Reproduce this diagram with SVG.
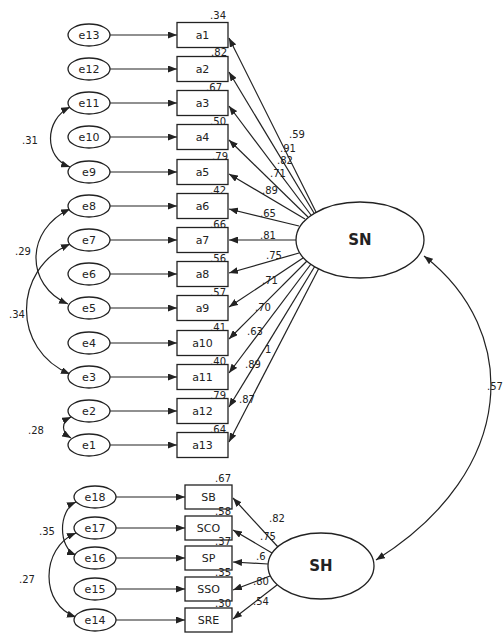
<svg xmlns="http://www.w3.org/2000/svg" width="503" height="636" viewBox="0 0 503 636">
<defs>
<marker id="ah" markerUnits="userSpaceOnUse" markerWidth="10" markerHeight="7" refX="9" refY="3.5" orient="auto-start-reverse"><path d="M0,0 L9,3.5 L0,7 z" fill="#222"/></marker>
<style>
.el{fill:#fff;stroke:#222;stroke-width:1.3}
.bx{fill:#fff;stroke:#222;stroke-width:1.3}
.c{fill:none;stroke:#222;stroke-width:1.2}
.a{marker-end:url(#ah)}
.b{marker-start:url(#ah);marker-end:url(#ah)}
text{font-family:"DejaVu Sans","Liberation Sans",sans-serif;font-size:10px;fill:#222}
.m{text-anchor:middle;font-size:11px}
.e{text-anchor:end}
.big{font-size:15px;text-anchor:middle;font-weight:600}
</style>
</defs>
<rect width="503" height="636" fill="#fff"/>
<g id="connectors">
<line class="c a" x1="110" y1="35" x2="177" y2="35"/>
<line class="c a" x1="110" y1="69" x2="177" y2="69"/>
<line class="c a" x1="110" y1="103" x2="177" y2="103"/>
<line class="c a" x1="110" y1="137" x2="177" y2="137"/>
<line class="c a" x1="110" y1="172" x2="177" y2="172"/>
<line class="c a" x1="110" y1="206" x2="177" y2="206"/>
<line class="c a" x1="110" y1="240" x2="177" y2="240"/>
<line class="c a" x1="110" y1="274" x2="177" y2="274"/>
<line class="c a" x1="110" y1="308" x2="177" y2="308"/>
<line class="c a" x1="110" y1="343" x2="177" y2="343"/>
<line class="c a" x1="110" y1="377" x2="177" y2="377"/>
<line class="c a" x1="110" y1="411" x2="177" y2="411"/>
<line class="c a" x1="110" y1="445" x2="177" y2="445"/>
<line class="c a" x1="116" y1="497" x2="185" y2="497"/>
<line class="c a" x1="116" y1="528" x2="185" y2="528"/>
<line class="c a" x1="116" y1="558" x2="185" y2="558"/>
<line class="c a" x1="116" y1="589" x2="185" y2="589"/>
<line class="c a" x1="116" y1="620" x2="185" y2="620"/>
<line class="c a" x1="316" y1="212" x2="229" y2="38"/>
<line class="c a" x1="314" y1="213" x2="229" y2="72"/>
<line class="c a" x1="311" y1="215" x2="229" y2="106"/>
<line class="c a" x1="308" y1="217" x2="229" y2="140"/>
<line class="c a" x1="305" y1="219" x2="229" y2="174"/>
<line class="c a" x1="299" y1="226" x2="229" y2="209"/>
<line class="c a" x1="296" y1="240" x2="229" y2="240"/>
<line class="c a" x1="299" y1="253" x2="229" y2="273"/>
<line class="c a" x1="303" y1="258" x2="229" y2="307"/>
<line class="c a" x1="307" y1="261" x2="229" y2="339"/>
<line class="c a" x1="311" y1="264" x2="229" y2="373"/>
<line class="c a" x1="315" y1="266" x2="229" y2="407"/>
<line class="c a" x1="319" y1="268" x2="229" y2="442"/>
<line class="c a" x1="278" y1="547" x2="233" y2="498"/>
<line class="c a" x1="272" y1="553" x2="233" y2="530"/>
<line class="c a" x1="268" y1="564" x2="233" y2="562"/>
<line class="c a" x1="270" y1="576" x2="233" y2="590"/>
<line class="c a" x1="277" y1="585" x2="233" y2="619"/>
<path class="c b" d="M70,107 C44,120 44,158 70,167"/>
<path class="c b" d="M70,209 C25,230 25,285 68,304"/>
<path class="c b" d="M70,244 C12,270 12,350 70,374"/>
<path class="c b" d="M71,417 C61,422 61,432 71,438"/>
<path class="c b" d="M76,502 C58,510 58,548 76,555"/>
<path class="c b" d="M76,533 C40,548 40,605 76,617"/>
<path class="c b" d="M424,256 C520,330 520,470 376,560"/>
</g>
<g id="labels">
<text x="289" y="138">.59</text>
<text x="280" y="152">.91</text>
<text x="277" y="164">.82</text>
<text x="270" y="177">.71</text>
<text x="262" y="194">.89</text>
<text x="260" y="217">.65</text>
<text x="260" y="239">.81</text>
<text x="266" y="259">.75</text>
<text x="262" y="284">.71</text>
<text x="255" y="311">.70</text>
<text x="247" y="335">.63</text>
<text x="265" y="353">1</text>
<text x="245" y="368">.89</text>
<text x="239" y="403">.87</text>
<text x="269" y="522">.82</text>
<text x="260" y="540">.75</text>
<text x="256" y="560">.6</text>
<text x="253" y="585">.80</text>
<text x="253" y="605">.54</text>
<text x="22" y="144">.31</text>
<text x="15" y="255">.29</text>
<text x="9" y="318">.34</text>
<text x="28" y="434">.28</text>
<text x="39" y="535">.35</text>
<text x="19" y="583">.27</text>
<text x="487" y="390">.57</text>
</g>
<g id="e13"><ellipse class="el" cx="89" cy="35" rx="21" ry="11"/><text class="m" x="89" y="39">e13</text></g>
<g id="e12"><ellipse class="el" cx="89" cy="69" rx="21" ry="11"/><text class="m" x="89" y="73">e12</text></g>
<g id="e11"><ellipse class="el" cx="89" cy="103" rx="21" ry="11"/><text class="m" x="89" y="107">e11</text></g>
<g id="e10"><ellipse class="el" cx="89" cy="137" rx="21" ry="11"/><text class="m" x="89" y="141">e10</text></g>
<g id="e9"><ellipse class="el" cx="89" cy="172" rx="21" ry="11"/><text class="m" x="89" y="176">e9</text></g>
<g id="e8"><ellipse class="el" cx="89" cy="206" rx="21" ry="11"/><text class="m" x="89" y="210">e8</text></g>
<g id="e7"><ellipse class="el" cx="89" cy="240" rx="21" ry="11"/><text class="m" x="89" y="244">e7</text></g>
<g id="e6"><ellipse class="el" cx="89" cy="274" rx="21" ry="11"/><text class="m" x="89" y="278">e6</text></g>
<g id="e5"><ellipse class="el" cx="89" cy="308" rx="21" ry="11"/><text class="m" x="89" y="312">e5</text></g>
<g id="e4"><ellipse class="el" cx="89" cy="343" rx="21" ry="11"/><text class="m" x="89" y="347">e4</text></g>
<g id="e3"><ellipse class="el" cx="89" cy="377" rx="21" ry="11"/><text class="m" x="89" y="381">e3</text></g>
<g id="e2"><ellipse class="el" cx="89" cy="411" rx="21" ry="11"/><text class="m" x="89" y="415">e2</text></g>
<g id="e1"><ellipse class="el" cx="89" cy="445" rx="21" ry="11"/><text class="m" x="89" y="449">e1</text></g>
<g id="e18"><ellipse class="el" cx="95" cy="497" rx="21" ry="11"/><text class="m" x="95" y="501">e18</text></g>
<g id="e17"><ellipse class="el" cx="95" cy="528" rx="21" ry="11"/><text class="m" x="95" y="532">e17</text></g>
<g id="e16"><ellipse class="el" cx="95" cy="558" rx="21" ry="11"/><text class="m" x="95" y="562">e16</text></g>
<g id="e15"><ellipse class="el" cx="95" cy="589" rx="21" ry="11"/><text class="m" x="95" y="593">e15</text></g>
<g id="e14"><ellipse class="el" cx="95" cy="620" rx="21" ry="11"/><text class="m" x="95" y="624">e14</text></g>
<g id="a1"><rect class="bx" x="177" y="22.5" width="51" height="25"/><text class="m" x="202.5" y="39">a1</text><text class="e" x="226" y="19">.34</text></g>
<g id="a2"><rect class="bx" x="177" y="56.5" width="51" height="25"/><text class="m" x="202.5" y="73">a2</text><text class="e" x="227" y="56">.82</text></g>
<g id="a3"><rect class="bx" x="177" y="90.5" width="51" height="25"/><text class="m" x="202.5" y="107">a3</text><text class="e" x="222" y="91">.67</text></g>
<g id="a4"><rect class="bx" x="177" y="124.5" width="51" height="25"/><text class="m" x="202.5" y="141">a4</text><text class="e" x="226" y="125">.50</text></g>
<g id="a5"><rect class="bx" x="177" y="159.5" width="51" height="25"/><text class="m" x="202.5" y="176">a5</text><text class="e" x="228" y="160">.79</text></g>
<g id="a6"><rect class="bx" x="177" y="193.5" width="51" height="25"/><text class="m" x="202.5" y="210">a6</text><text class="e" x="226" y="194">.42</text></g>
<g id="a7"><rect class="bx" x="177" y="227.5" width="51" height="25"/><text class="m" x="202.5" y="244">a7</text><text class="e" x="226" y="228">.66</text></g>
<g id="a8"><rect class="bx" x="177" y="261.5" width="51" height="25"/><text class="m" x="202.5" y="278">a8</text><text class="e" x="226" y="262">.56</text></g>
<g id="a9"><rect class="bx" x="177" y="295.5" width="51" height="25"/><text class="m" x="202.5" y="312">a9</text><text class="e" x="226" y="296">.57</text></g>
<g id="a10"><rect class="bx" x="177" y="330.5" width="51" height="25"/><text class="m" x="202.5" y="347">a10</text><text class="e" x="226" y="331">.41</text></g>
<g id="a11"><rect class="bx" x="177" y="364.5" width="51" height="25"/><text class="m" x="202.5" y="381">a11</text><text class="e" x="226" y="365">.40</text></g>
<g id="a12"><rect class="bx" x="177" y="398.5" width="51" height="25"/><text class="m" x="202.5" y="415">a12</text><text class="e" x="226" y="399">.79</text></g>
<g id="a13"><rect class="bx" x="177" y="432.5" width="51" height="25"/><text class="m" x="202.5" y="449">a13</text><text class="e" x="226" y="433">.64</text></g>
<g id="SB"><rect class="bx" x="185" y="485" width="47" height="24"/><text class="m" x="208.5" y="501">SB</text><text class="e" x="231" y="482">.67</text></g>
<g id="SCO"><rect class="bx" x="185" y="516" width="47" height="24"/><text class="m" x="208.5" y="532">SCO</text><text class="e" x="231" y="515">.58</text></g>
<g id="SP"><rect class="bx" x="185" y="546" width="47" height="24"/><text class="m" x="208.5" y="562">SP</text><text class="e" x="231" y="545">.37</text></g>
<g id="SSO"><rect class="bx" x="185" y="577" width="47" height="24"/><text class="m" x="208.5" y="593">SSO</text><text class="e" x="231" y="576">.35</text></g>
<g id="SRE"><rect class="bx" x="185" y="608" width="47" height="24"/><text class="m" x="208.5" y="624">SRE</text><text class="e" x="231" y="607">.30</text></g>
<g id="SN"><ellipse class="el" cx="360" cy="240" rx="64" ry="38"/><text class="big" x="360" y="245">SN</text></g>
<g id="SH"><ellipse class="el" cx="321" cy="566" rx="53" ry="33"/><text class="big" x="321" y="571">SH</text></g>
</svg>
